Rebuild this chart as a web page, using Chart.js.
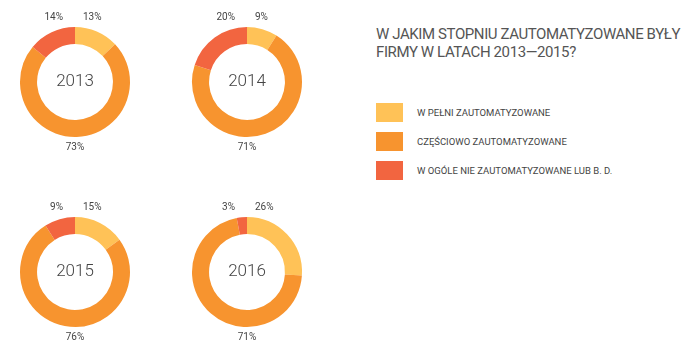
<!DOCTYPE html>
<html>
<head>
<meta charset="utf-8">
<script src="https://cdn.jsdelivr.net/npm/chart.js@4"></script>
<style>
  body { margin: 0; background: #fff; font-family: Roboto, "Noto Sans", sans-serif; }
  #wrap { position: relative; width: 700px; height: 358px; overflow: hidden; }
  .donut { position: absolute; width: 150px; height: 164px; }
  #title { position: absolute; left: 376px; top: 26px; font-size: 15px; line-height: 17.5px; color: #555; white-space: nowrap; letter-spacing: -0.4px; }
  .leg { position: absolute; left: 376px; height: 19px; }
  .leg .sw { position: absolute; left: 0; top: 0; width: 27px; height: 19px; }
  .leg .tx { position: absolute; left: 41px; top: 4px; font-size: 9.5px; color: #444; white-space: nowrap; }
</style>
</head>
<body>
<div id="wrap">
  <div id="title">W JAKIM STOPNIU ZAUTOMATYZOWANE BYŁY<br>FIRMY W LATACH 2013—2015?</div>
</div>
<script>
  // Chart data
  const years = ["2013", "2014", "2015", "2016"];
  const categories = ["W PEŁNI ZAUTOMATYZOWANE", "CZĘŚCIOWO ZAUTOMATYZOWANE", "W OGÓLE NIE ZAUTOMATYZOWANE LUB B. D."];
  const fullyAuto = [13, 9, 15, 26];
  const partlyAuto = [73, 71, 76, 71];
  const notAuto = [14, 20, 9, 3];
  const colors = ["#FFC257", "#F7942F", "#F26540"];

  const wrap = document.getElementById("wrap");

  // legend built from categories
  categories.forEach(function(name, i) {
    const row = document.createElement("div");
    row.className = "leg";
    row.style.top = (103 + i * 29) + "px";
    row.innerHTML = '<div class="sw" style="background:' + colors[i] + '"></div><div class="tx">' + name + '</div>';
    wrap.appendChild(row);
  });

  // draws year in the middle and the percent labels around the ring
  const donutLabels = {
    id: "donutLabels",
    afterDraw: function(chart) {
      const ctx = chart.ctx;
      const arc = chart.getDatasetMeta(0).data[0];
      const cx = arc.x, cy = arc.y, r = arc.outerRadius;
      const vals = chart.data.datasets[0].data;
      ctx.save();
      ctx.fillStyle = "#444";
      ctx.textBaseline = "middle";
      ctx.font = "300 17px Roboto";
      ctx.textAlign = "center";
      ctx.fillText(chart.options.plugins.centerText, cx, cy);
      ctx.font = "10px Roboto";
      ctx.textAlign = "left";
      ctx.fillText(vals[0] + "%", cx + 8, cy - r - 10);
      ctx.textAlign = "right";
      ctx.fillText(vals[2] + "%", cx - 12, cy - r - 10);
      ctx.textAlign = "center";
      ctx.fillText(vals[1] + "%", cx, cy + r + 10);
      ctx.restore();
    }
  };

  years.forEach(function(year, i) {
    const box = document.createElement("div");
    box.className = "donut";
    box.style.left = (i % 2 === 0 ? 0 : 172) + "px";
    box.style.top = (i < 2 ? 0 : 190) + "px";
    const canvas = document.createElement("canvas");
    box.appendChild(canvas);
    wrap.appendChild(box);

    new Chart(canvas, {
      type: "doughnut",
      data: {
        labels: categories,
        datasets: [{
          data: [fullyAuto[i], partlyAuto[i], notAuto[i]],
          backgroundColor: colors,
          borderWidth: 0
        }]
      },
      options: {
        responsive: true,
        maintainAspectRatio: false,
        animation: false,
        cutout: "69%",
        layout: { padding: { top: 27, bottom: 27, left: 20, right: 20 } },
        plugins: {
          legend: { display: false },
          tooltip: { enabled: false },
          centerText: year
        }
      },
      plugins: [donutLabels]
    });
  });
</script>
</body>
</html>
